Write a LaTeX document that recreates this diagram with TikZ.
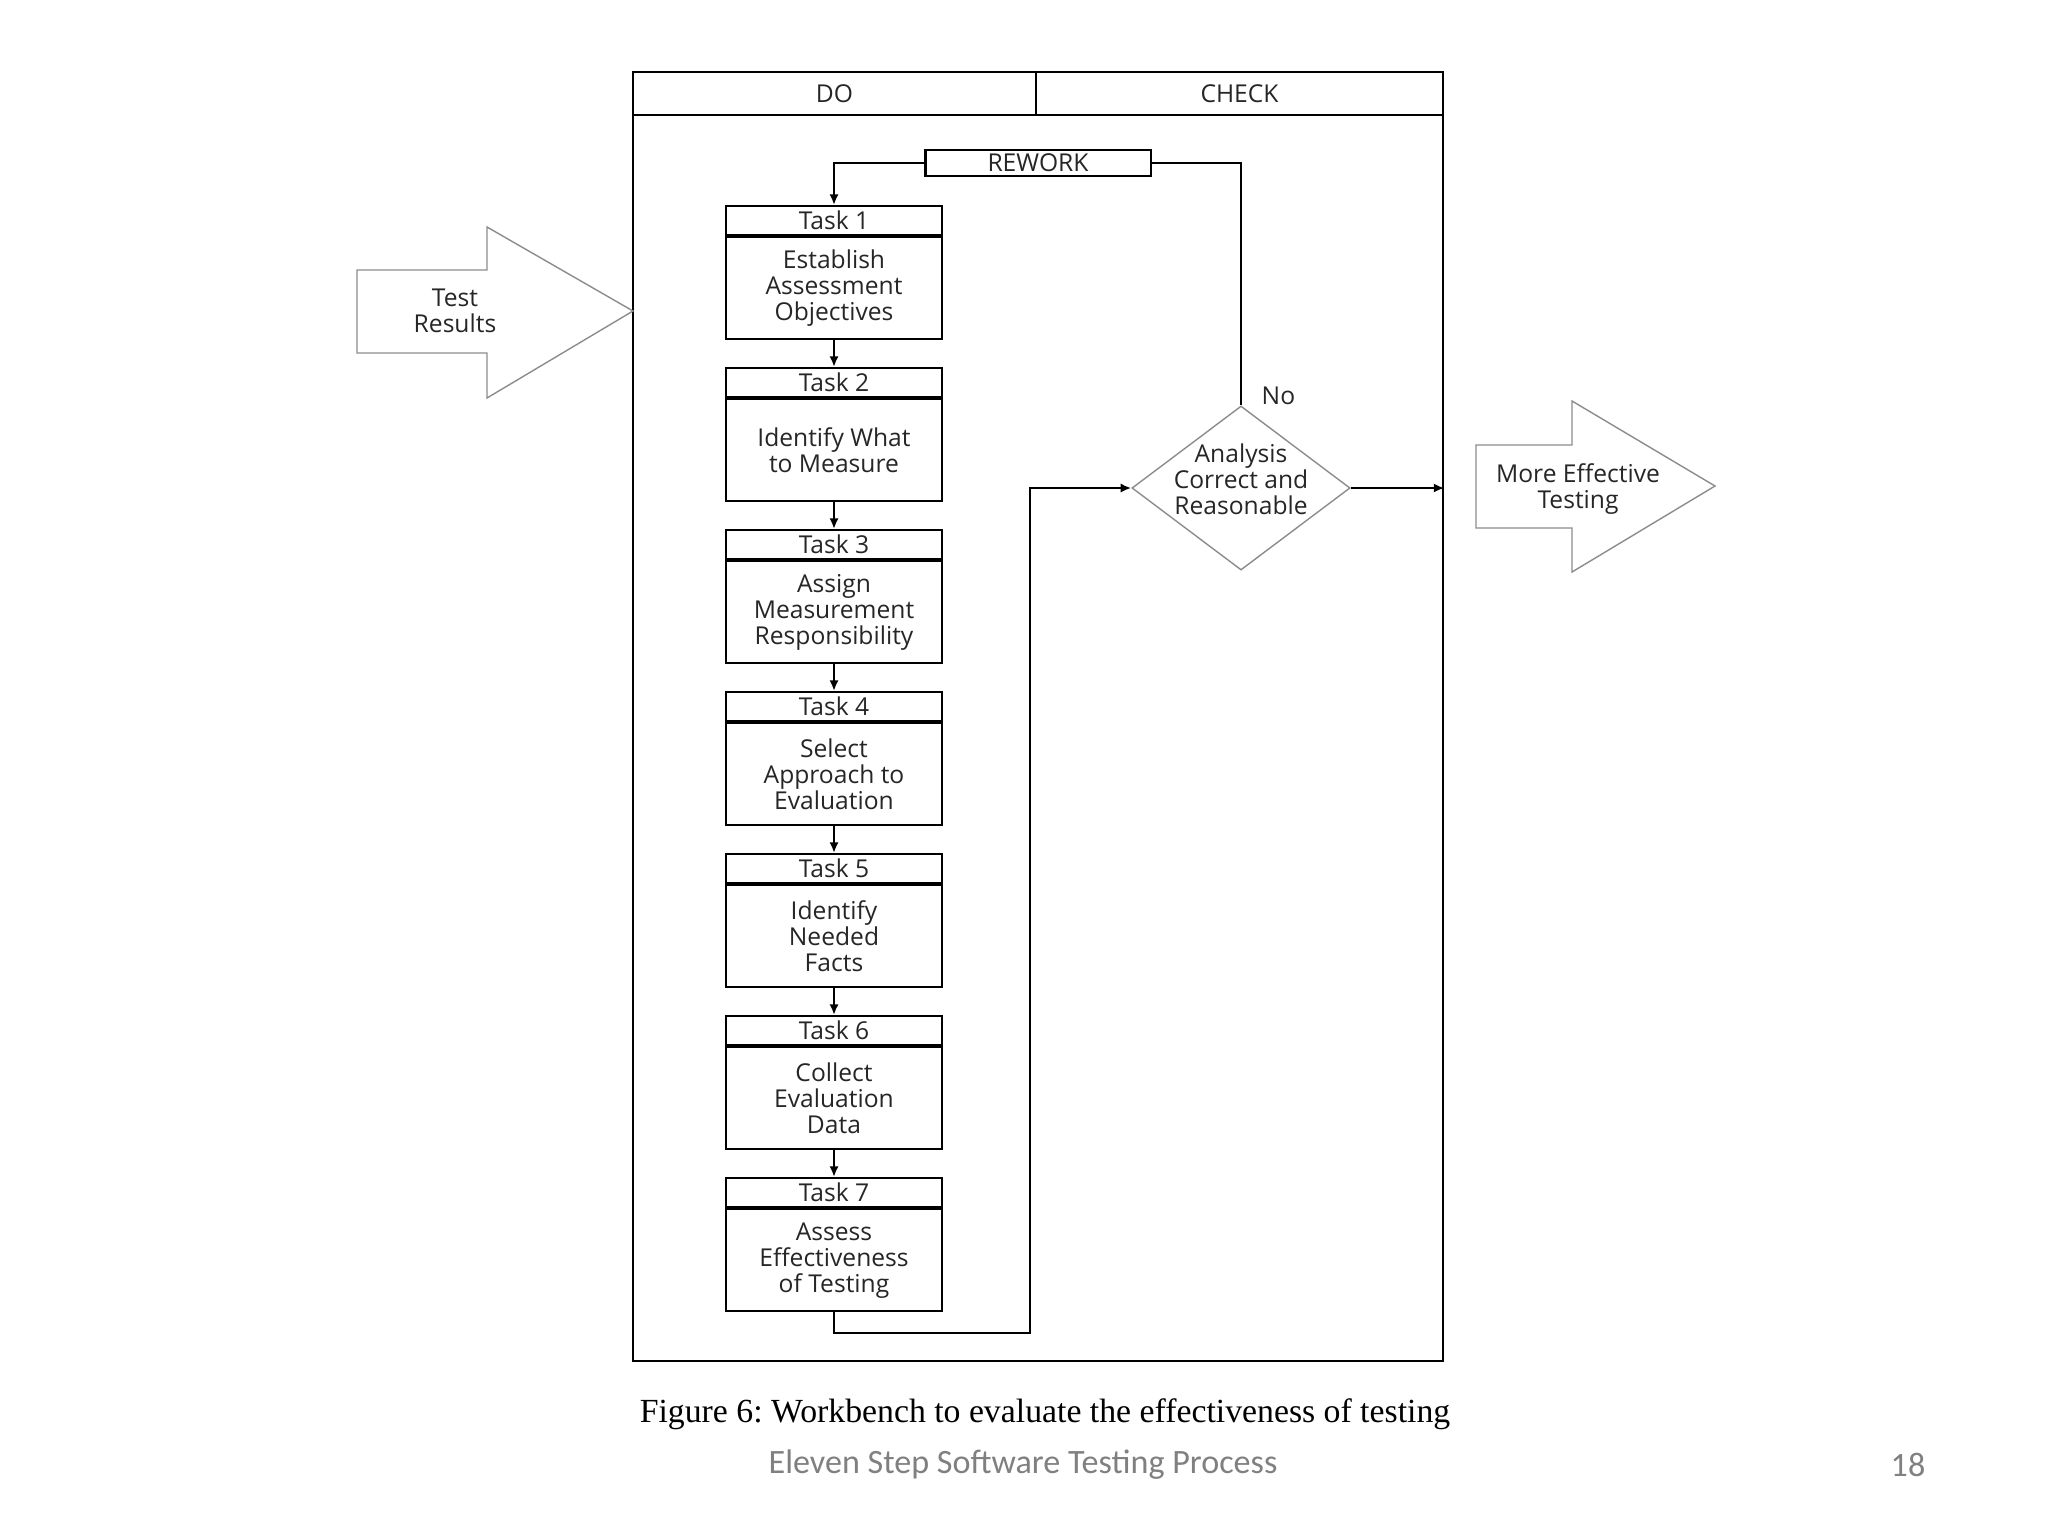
\documentclass[tikz,border=0pt]{standalone}
\usepackage{fontspec}
\setmainfont{Liberation Serif}
\newfontfamily\diagfont{Open Sans}
\newfontfamily\slidefont{Carlito}
\usepackage{tikz}
\usetikzlibrary{shapes.geometric, arrows.meta, positioning, calc}
\newcommand{\diagsize}{\diagfont\fontsize{7}{7.4}\selectfont}
\frenchspacing
\tikzset{
  % Workbench styles
  taskhead/.style={rectangle, minimum width=2.16cm, minimum height=0.29cm, inner sep=0pt, text centered, draw=black, line width=0.6pt, text=black!85, font=\diagsize},
  taskbody/.style={rectangle, minimum width=2.16cm, minimum height=1.02cm, inner sep=0pt, align=center, draw=black, line width=0.6pt, text=black!85, font=\diagsize},
  headcell/.style={rectangle, minimum height=0.43cm, inner sep=0pt, text centered, draw=black, line width=0.6pt, text=black!85, font=\diagsize},
  decision/.style={diamond, aspect=1.33, minimum width=2.18cm, minimum height=1.64cm, inner sep=0pt, draw=black!45, line width=0.4pt},
  note/.style={align=center, inner sep=0pt, text=black!85, font=\diagsize},
  bigarrow/.style={draw=black!45, line width=0.4pt},
  arrow/.style={-{Latex[length=3pt, width=2.6pt]}, line width=0.6pt},
  link/.style={line width=0.6pt},
}

\begin{document}
\begin{tikzpicture}[x=0.01cm, y=-0.01cm,
    frame/.style={rectangle, inner sep=0pt, draw=black, line width=0.6pt},
    rework/.style={rectangle, minimum width=2.25cm, minimum height=0.26cm, inner sep=0pt, text centered, draw=black, line width=0.6pt, text=black!85, font=\diagsize}
  ]
    \useasboundingbox (0,0) rectangle (2048,1536);

    % DO / CHECK header and frame
    \node[headcell, minimum width=4.03cm] (do) at (834.5,93.5) {DO};
    \node[headcell, minimum width=4.07cm] (check) at (1239.5,93.5) {CHECK};
    \node[frame, minimum width=8.1cm, minimum height=12.46cm] (frame) at (1038,738) {};

    % Tasks
    \foreach \i/\txt in {1/{Establish\\Assessment\\Objectives}, 2/{Identify What\\to Measure}, 3/{Assign\\Measurement\\Responsibility}, 4/{Select\\Approach to\\Evaluation}, 5/{Identify\\Needed\\Facts}, 6/{Collect\\Evaluation\\Data}, 7/{Assess\\Effectiveness\\of Testing}} {
      \node[taskhead] (h\i) at (834, {220.5+162*(\i-1)}) {Task \i};
      \node[taskbody, below=0pt of h\i] (t\i) {\txt};
    }
    \foreach \i [count=\j from 2] in {1,...,6} {
      \draw[arrow] (t\i) -- (h\j);
    }

    % Check step
    \node[decision, label={[note, yshift=0.09cm]center:Analysis\\Correct and\\Reasonable}] (analysis) at (1241,488) {};
    \node[note, anchor=south west] (no) at ([xshift=0.2cm]analysis.north) {No};
    \node[rework] (rework) at (1038,163) {REWORK};

    \draw[arrow] (rework.west) -| (h1.north);
    \draw[link] (rework.east) -| (analysis.north);
    \coordinate (loop) at (1030,1333);
    \draw[arrow] (t7.south) |- (loop) |- (analysis.west);
    \draw[arrow] (analysis.east) -- (analysis.east -| frame.east);

    % Input and output
    \draw[bigarrow] (357,270) -- (487,270) -- (487,227) -- (633,311) -- (487,398) -- (487,353) -- (357,353) -- cycle;
    \node[note] (testres) at (455,311) {Test\\Results};
    \draw[bigarrow] (1476,445) -- (1572,445) -- (1572,401) -- (1715,486) -- (1572,572) -- (1572,528) -- (1476,528) -- cycle;
    \node[note] (output) at (1578,489) {More Effective\\Testing};

    % Caption and slide footer
    \node[font=\fontsize{9.6}{11}\selectfont] (caption) at (1045,1414) {Figure 6: Workbench to evaluate the effectiveness of testing};
    \node[font=\slidefont\fontsize{9.7}{11}\selectfont, text=gray] (footer) at (1023,1465) {Eleven Step Software Testing Process};
    \node[font=\slidefont\fontsize{9.7}{11}\selectfont, text=gray] (pagenum) at (1908,1465) {18};
  \end{tikzpicture}
\end{document}
